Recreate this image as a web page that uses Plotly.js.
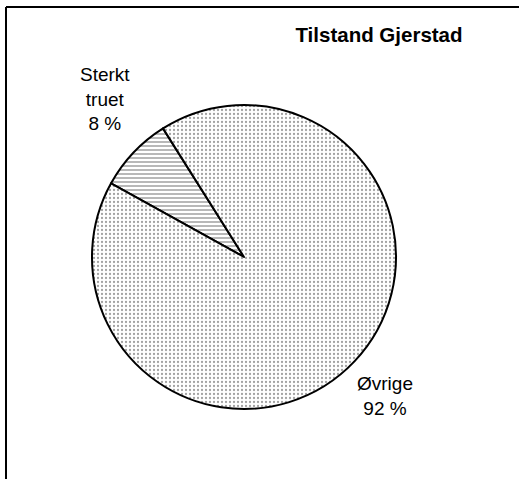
<!DOCTYPE html>
<html>
<head>
<meta charset="utf-8">
<script src="https://cdn.plot.ly/plotly-3.0.1.min.js"></script>
<style>html,body{margin:0;padding:0;background:#fff;}#chart{width:519px;height:479px;}</style>
</head>
<body>
<div id="chart"></div>
<script>
const categories = ["Sterkt truet", "Øvrige"];
const labelLines = [["Sterkt", "truet"], ["Øvrige"]];
const values = [8, 92];
const chartTitle = "Tilstand Gjerstad";

const W = 519, H = 479;
const cx = 244, cy = 257, R = 152;

const trace = {
  type: "pie",
  labels: categories,
  values: values,
  sort: false,
  direction: "clockwise",
  rotation: -61,
  textinfo: "none",
  hoverinfo: "label+percent",
  showlegend: false,
  domain: {
    x: [(cx - R) / W, (cx + R) / W],
    y: [1 - (cy + R) / H, 1 - (cy - R) / H]
  },
  marker: {
    colors: ["#ffffff", "#ffffff"],
    line: { color: "#000000", width: 2 },
    pattern: {
      shape: ["-", "."],
      size: [4, 4],
      solidity: [0.35, 0.25],
      fgcolor: ["#333333", "#444444"],
      bgcolor: ["#ffffff", "#ffffff"],
      fillmode: "overlay"
    }
  }
};

const labelPos = [[105, 99], [385, 396]];
const annotations = categories.map((c, i) => ({
  xref: "paper", yref: "paper",
  x: labelPos[i][0] / W, y: 1 - labelPos[i][1] / H,
  xanchor: "center", yanchor: "middle",
  text: labelLines[i].join("<br>") + "<br>" + values[i] + " %",
  showarrow: false, align: "center",
  font: { family: "Liberation Sans, Arial, sans-serif", size: 19, color: "#000" }
}));

const layout = {
  width: W, height: H,
  margin: { l: 0, r: 0, t: 0, b: 0 },
  paper_bgcolor: "#ffffff",
  title: {
    text: "<b>" + chartTitle + "</b>",
    x: 379 / W, xanchor: "center",
    y: 1 - 35 / H, yanchor: "middle",
    font: { family: "Liberation Sans, Arial, sans-serif", size: 20.5, color: "#000" }
  },
  annotations: annotations,
  shapes: [
    { type: "line", xref: "paper", yref: "paper", x0: 6 / W, x1: 1, y0: 1 - 7 / H, y1: 1 - 7 / H, line: { color: "#000", width: 2 } },
    { type: "line", xref: "paper", yref: "paper", x0: 6 / W, x1: 6 / W, y0: 0, y1: 1 - 7 / H, line: { color: "#000", width: 2 } }
  ]
};

Plotly.newPlot("chart", [trace], layout, { displayModeBar: false, staticPlot: true });
</script>
</body>
</html>
